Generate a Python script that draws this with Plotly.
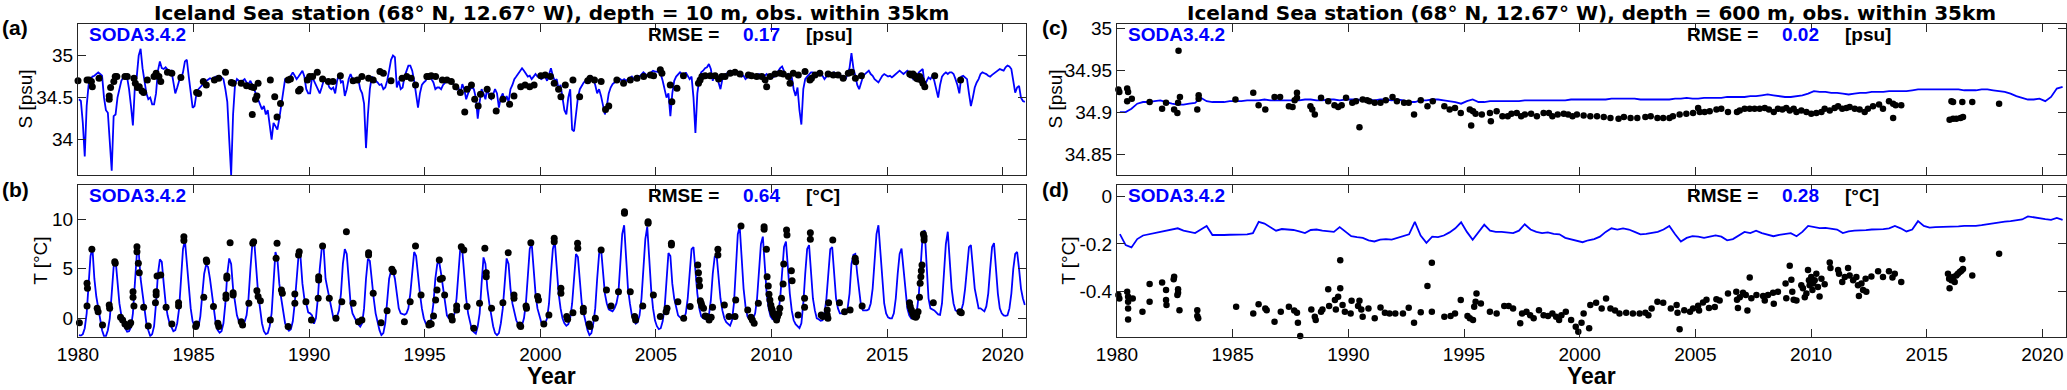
import plotly.graph_objects as go

W, H = 2067, 390
years = list(range(1980, 2021))

# SODA3.4.2 monthly salinity at 10 m [psu], one row per year (Jan..Dec)
s10_model = [
    [34.48, 34.46, 34.20, 33.80, 34.40, 34.65, 34.72, 34.75, 34.76, 34.78, 34.80, 34.78],
    [34.76, 34.50, 34.35, 34.32, 34.00, 33.63, 34.28, 34.30, 34.50, 34.62, 34.70, 34.74],
    [34.75, 34.74, 34.60, 34.40, 34.17, 34.62, 34.75, 35.00, 35.08, 34.85, 34.72, 34.55],
    [34.48, 34.50, 34.42, 34.42, 34.55, 34.82, 34.93, 34.85, 34.84, 34.86, 34.83, 34.82],
    [34.82, 34.70, 34.55, 34.62, 34.70, 34.72, 34.80, 34.93, 34.95, 34.75, 34.55, 34.38],
    [34.40, 34.55, 34.60, 34.62, 34.65, 34.68, 34.70, 34.72, 34.73, 34.72, 34.74, 34.75],
    [34.75, 34.76, 34.74, 34.72, 34.60, 34.45, 34.00, 33.58, 34.30, 34.65, 34.72, 34.70],
    [34.70, 34.70, 34.72, 34.68, 34.66, 34.70, 34.65, 34.60, 34.55, 34.48, 34.42, 34.36],
    [34.40, 34.30, 34.35, 34.20, 34.00, 34.20, 34.15, 34.12, 34.25, 34.40, 34.60, 34.72],
    [34.72, 34.70, 34.76, 34.80, 34.76, 34.72, 34.75, 34.78, 34.82, 34.75, 34.60, 34.55],
    [34.55, 34.75, 34.70, 34.65, 34.60, 34.55, 34.62, 34.70, 34.72, 34.68, 34.62, 34.60],
    [34.62, 34.55, 34.70, 34.78, 34.68, 34.70, 34.52, 34.60, 34.72, 34.78, 34.72, 34.72],
    [34.72, 34.72, 34.60, 34.55, 34.43, 33.90, 34.30, 34.60, 34.75, 34.72, 34.70, 34.68],
    [34.65, 34.66, 34.60, 34.62, 34.70, 34.82, 34.95, 35.00, 34.98, 34.62, 34.70, 34.60],
    [34.62, 34.75, 34.82, 34.88, 34.88, 34.82, 34.70, 34.55, 34.38, 34.55, 34.65, 34.68],
    [34.70, 34.75, 34.78, 34.72, 34.68, 34.60, 34.62, 34.62, 34.60, 34.65, 34.68, 34.70],
    [34.70, 34.68, 34.66, 34.65, 34.60, 34.62, 34.55, 34.66, 34.60, 34.48, 34.55, 34.60],
    [34.62, 34.60, 34.50, 34.25, 34.45, 34.60, 34.55, 34.48, 34.62, 34.50, 34.48, 34.55],
    [34.60, 34.55, 34.38, 34.50, 34.55, 34.45, 34.52, 34.45, 34.60, 34.65, 34.72, 34.75],
    [34.78, 34.82, 34.85, 34.82, 34.78, 34.75, 34.76, 34.72, 34.75, 34.78, 34.75, 34.74],
    [34.72, 34.74, 34.75, 34.70, 34.78, 34.85, 34.76, 34.70, 34.72, 34.60, 34.65, 34.50],
    [34.35, 34.30, 34.50, 34.60, 34.12, 34.10, 34.30, 34.50, 34.60, 34.65, 34.68, 34.70],
    [34.72, 34.70, 34.75, 34.72, 34.65, 34.55, 34.60, 34.52, 34.40, 34.30, 34.40, 34.55],
    [34.62, 34.66, 34.68, 34.70, 34.70, 34.72, 34.70, 34.72, 34.70, 34.72, 34.74, 34.75],
    [34.72, 34.74, 34.76, 34.75, 34.78, 34.80, 34.78, 34.76, 34.78, 34.80, 34.82, 34.81],
    [34.81, 34.80, 34.78, 34.70, 34.60, 34.50, 34.55, 34.28, 34.55, 34.70, 34.75, 34.78],
    [34.80, 34.78, 34.76, 34.80, 34.76, 34.72, 34.75, 34.50, 34.08, 34.55, 34.72, 34.80],
    [34.82, 34.85, 34.86, 34.90, 34.84, 34.70, 34.78, 34.75, 34.68, 34.60, 34.72, 34.76],
    [34.78, 34.80, 34.82, 34.80, 34.78, 34.79, 34.80, 34.78, 34.75, 34.76, 34.72, 34.74],
    [34.75, 34.77, 34.78, 34.76, 34.77, 34.78, 34.76, 34.74, 34.76, 34.78, 34.75, 34.76],
    [34.74, 34.75, 34.78, 34.82, 34.85, 34.87, 34.82, 34.76, 34.78, 34.70, 34.75, 34.60],
    [34.52, 34.62, 34.35, 34.18, 34.60, 34.72, 34.75, 34.78, 34.80, 34.80, 34.78, 34.76],
    [34.80, 34.78, 34.76, 34.72, 34.75, 34.80, 34.78, 34.76, 34.80, 34.78, 34.76, 34.75],
    [34.76, 34.75, 34.72, 34.78, 34.85, 35.03, 34.85, 34.76, 34.65, 34.60, 34.68, 34.75],
    [34.78, 34.80, 34.82, 34.78, 34.76, 34.72, 34.70, 34.68, 34.72, 34.76, 34.78, 34.76],
    [34.75, 34.76, 34.74, 34.76, 34.78, 34.80, 34.82, 34.80, 34.78, 34.80, 34.82, 34.80],
    [34.76, 34.72, 34.74, 34.76, 34.80, 34.82, 34.84, 34.65, 34.70, 34.74, 34.72, 34.76],
    [34.70, 34.60, 34.50, 34.65, 34.75, 34.78, 34.80, 34.78, 34.80, 34.80, 34.78, 34.72],
    [34.65, 34.55, 34.75, 34.76, 34.74, 34.72, 34.55, 34.40, 34.50, 34.62, 34.68, 34.72],
    [34.78, 34.80, 34.79, 34.78, 34.76, 34.75, 34.77, 34.79, 34.80, 34.82, 34.84, 34.83],
    [34.82, 34.86, 34.88, 34.87, 34.84, 34.70, 34.56, 34.62, 34.64, 34.50, 34.46, 34.45],
]

# SODA3.4.2 monthly temperature at 10 m [degC], one row per year (Jan..Dec)
t10_model = [
    [-1.7, -1.75, -1.6, -1.0, 0.5, 3.5, 6.3, 7.07, 4.0, 2.2, 1.0, 0.0],
    [-1.2, -1.8, -1.8, -1.2, 0.0, 2.5, 5.2, 5.9, 3.5, 1.5, 0.3, -0.6],
    [-1.0, -1.35, -1.3, -0.9, 0.5, 3.2, 6.4, 6.8, 4.0, 2.5, 0.8, -0.5],
    [-1.2, -1.8, -1.6, -0.8, 1.5, 4.5, 5.95, 5.7, 3.5, 1.5, 0.3, -0.5],
    [-0.9, -1.3, -1.2, -0.5, 1.0, 4.0, 7.0, 7.9, 5.5, 2.5, 1.0, -0.3],
    [-0.8, -1.0, -0.9, 0.2, 2.5, 4.5, 5.4, 5.2, 4.0, 2.5, 1.0, -0.5],
    [-1.2, -1.45, -1.3, -0.5, 1.5, 4.5, 6.05, 5.5, 3.0, 1.5, 0.3, -0.3],
    [-0.3, -0.5, -0.35, 0.3, 2.0, 5.0, 7.5, 7.75, 4.5, 2.5, 1.0, -0.5],
    [-1.3, -1.6, -1.5, -0.8, 0.5, 3.5, 6.7, 6.0, 3.5, 2.0, 0.5, -0.5],
    [-1.0, -1.25, -1.1, -0.3, 1.5, 4.5, 6.4, 6.2, 3.5, 2.0, 1.5, 0.6],
    [0.5, 0.3, -0.55, 0.0, 2.0, 5.0, 7.0, 7.2, 4.0, 3.0, 2.0, 0.8],
    [0.1, 0.0, 0.2, 0.8, 2.5, 5.5, 7.0, 6.5, 3.5, 1.5, 0.5, 0.0],
    [-0.3, -0.6, -0.85, -0.5, 1.0, 4.0, 6.0, 5.8, 3.5, 2.0, 0.5, -0.5],
    [-1.2, -1.7, -1.5, -0.5, 1.5, 4.0, 4.8, 4.8, 4.0, 2.5, 1.0, 0.5],
    [0.4, 0.35, 0.5, 1.0, 2.5, 5.0, 6.7, 6.3, 4.0, 2.5, 1.0, 0.0],
    [-0.5, -0.75, -0.6, 0.0, 1.5, 4.0, 5.5, 5.7, 4.5, 3.0, 1.5, 0.3],
    [0.0, -0.15, 0.0, 0.5, 2.0, 5.0, 7.2, 6.8, 4.0, 2.0, 0.5, -0.5],
    [-1.2, -1.4, -1.55, -0.8, 0.5, 3.5, 6.15, 5.5, 3.0, 1.5, 0.2, -0.8],
    [-1.5, -1.7, -1.5, -0.5, 1.0, 4.0, 6.05, 5.5, 3.0, 1.5, 0.5, -0.2],
    [-0.6, -0.85, -0.7, 0.0, 1.5, 4.5, 7.0, 7.6, 5.0, 2.5, 1.0, 0.2],
    [-0.4, -0.65, -0.5, 0.0, 1.5, 4.5, 7.0, 7.75, 5.0, 2.5, 1.0, 0.0],
    [-0.5, -0.75, -0.6, 0.0, 1.5, 4.0, 6.5, 6.2, 3.5, 1.5, 0.5, -0.5],
    [-1.2, -1.7, -1.5, -0.5, 1.0, 4.0, 6.5, 7.07, 4.5, 2.5, 1.5, 0.9],
    [0.8, 0.7, 1.0, 1.5, 2.5, 5.5, 8.5, 9.4, 6.0, 3.0, 1.5, 0.3],
    [-0.2, -0.55, -0.4, 0.3, 2.0, 5.0, 8.0, 9.25, 6.0, 3.0, 1.0, -0.2],
    [-0.8, -1.1, -1.0, -0.3, 1.0, 4.0, 6.6, 6.3, 3.5, 2.0, 1.0, 0.3],
    [0.1, 0.0, 0.0, 0.5, 2.0, 5.0, 7.0, 7.2, 4.5, 2.5, 1.0, 0.2],
    [0.0, -0.1, -0.15, 0.3, 1.8, 4.5, 6.2, 6.4, 4.0, 2.0, 0.8, 0.0],
    [-0.4, -0.6, -0.75, -0.2, 1.5, 5.0, 8.5, 9.25, 6.0, 3.0, 1.2, 0.2],
    [-0.1, -0.1, 0.0, 0.5, 2.0, 5.0, 7.5, 8.25, 5.5, 2.5, 1.0, 0.2],
    [-0.1, -0.15, 0.0, 0.5, 2.0, 5.0, 7.2, 7.75, 5.0, 2.5, 0.8, -0.2],
    [-0.6, -0.8, -1.0, -0.5, 1.5, 4.5, 7.0, 7.4, 4.5, 2.0, 0.8, 0.0],
    [-0.1, -0.25, -0.2, 0.5, 2.0, 5.0, 7.0, 7.2, 4.0, 2.0, 1.0, 0.5],
    [0.5, 0.5, 0.6, 1.0, 2.5, 5.5, 6.4, 6.5, 4.5, 2.5, 1.2, 0.8],
    [0.8, 0.8, 0.9, 1.5, 3.0, 6.0, 8.5, 9.4, 6.5, 3.5, 1.5, 0.5],
    [0.1, 0.0, 0.0, 0.5, 2.0, 4.5, 6.5, 7.05, 5.0, 2.5, 1.0, 0.3],
    [0.0, 0.0, 0.1, 0.8, 2.5, 5.5, 8.5, 8.9, 5.0, 2.0, 1.0, 0.9],
    [0.8, 0.6, 0.4, 0.35, 1.5, 4.5, 7.5, 8.75, 5.5, 3.0, 1.5, 0.8],
    [0.7, 0.7, 0.8, 1.5, 3.0, 5.5, 7.2, 7.4, 5.0, 3.0, 2.0, 1.0],
    [1.0, 0.8, 0.7, 1.2, 2.5, 5.0, 7.2, 7.6, 5.0, 2.5, 1.0, 0.5],
    [0.3, 0.25, 0.3, 1.0, 2.5, 5.0, 6.5, 6.7, 5.0, 3.0, 2.0, 1.35],
]

# SODA3.4.2 salinity at 600 m [psu], four values per year
s600_model = [
    [34.900, 34.900, 34.904, 34.910], [34.912, 34.912, 34.913, 34.914],
    [34.912, 34.910, 34.909, 34.909], [34.910, 34.911, 34.917, 34.913],
    [34.912, 34.912, 34.912, 34.913], [34.913, 34.913, 34.914, 34.914],
    [34.914, 34.915, 34.914, 34.914], [34.914, 34.914, 34.914, 34.914],
    [34.915, 34.915, 34.914, 34.914], [34.915, 34.915, 34.914, 34.915],
    [34.915, 34.915, 34.914, 34.915], [34.914, 34.915, 34.915, 34.914],
    [34.915, 34.914, 34.912, 34.912], [34.914, 34.914, 34.915, 34.915],
    [34.914, 34.913, 34.912, 34.910], [34.913, 34.915, 34.912, 34.912],
    [34.913, 34.913, 34.913, 34.913], [34.913, 34.913, 34.914, 34.914],
    [34.914, 34.914, 34.914, 34.914], [34.914, 34.914, 34.915, 34.915],
    [34.915, 34.915, 34.915, 34.915], [34.915, 34.916, 34.916, 34.916],
    [34.916, 34.916, 34.915, 34.915], [34.915, 34.915, 34.915, 34.915],
    [34.916, 34.916, 34.917, 34.916], [34.916, 34.917, 34.917, 34.917],
    [34.917, 34.918, 34.918, 34.918], [34.918, 34.919, 34.919, 34.920],
    [34.921, 34.920, 34.919, 34.918], [34.918, 34.919, 34.920, 34.922],
    [34.925, 34.924, 34.924, 34.923], [34.923, 34.922, 34.921, 34.922],
    [34.923, 34.923, 34.924, 34.924], [34.924, 34.925, 34.925, 34.925],
    [34.925, 34.926, 34.927, 34.927], [34.927, 34.927, 34.927, 34.927],
    [34.927, 34.927, 34.926, 34.926], [34.926, 34.927, 34.927, 34.926],
    [34.925, 34.924, 34.922, 34.919], [34.917, 34.915, 34.915, 34.916],
    [34.913, 34.918, 34.928, 34.930],
]

# SODA3.4.2 temperature at 600 m [degC], four values per year
t600_model = [
    [-0.159, -0.205, -0.215, -0.180], [-0.165, -0.160, -0.158, -0.152],
    [-0.148, -0.140, -0.135, -0.145], [-0.150, -0.155, -0.140, -0.125],
    [-0.163, -0.164, -0.163, -0.162], [-0.162, -0.161, -0.160, -0.155],
    [-0.108, -0.115, -0.130, -0.145], [-0.138, -0.140, -0.142, -0.148],
    [-0.155, -0.142, -0.140, -0.145], [-0.148, -0.150, -0.130, -0.150],
    [-0.168, -0.172, -0.175, -0.185], [-0.190, -0.182, -0.180, -0.182],
    [-0.175, -0.168, -0.160, -0.108], [-0.165, -0.196, -0.170, -0.172],
    [-0.165, -0.152, -0.135, -0.110], [-0.150, -0.183, -0.150, -0.120],
    [-0.145, -0.150, -0.150, -0.152], [-0.155, -0.145, -0.118, -0.140],
    [-0.150, -0.155, -0.152, -0.158], [-0.160, -0.175, -0.180, -0.185],
    [-0.193, -0.185, -0.180, -0.170], [-0.150, -0.135, -0.140, -0.135],
    [-0.140, -0.150, -0.160, -0.158], [-0.155, -0.150, -0.140, -0.125],
    [-0.160, -0.190, -0.175, -0.168], [-0.170, -0.175, -0.170, -0.165],
    [-0.170, -0.185, -0.180, -0.165], [-0.150, -0.155, -0.145, -0.155],
    [-0.160, -0.168, -0.162, -0.158], [-0.155, -0.168, -0.150, -0.125],
    [-0.130, -0.134, -0.133, -0.135], [-0.140, -0.155, -0.148, -0.145],
    [-0.145, -0.143, -0.140, -0.140], [-0.138, -0.135, -0.125, -0.135],
    [-0.148, -0.140, -0.105, -0.125], [-0.132, -0.130, -0.130, -0.129],
    [-0.128, -0.127, -0.125, -0.126], [-0.125, -0.122, -0.118, -0.113],
    [-0.110, -0.107, -0.105, -0.102], [-0.098, -0.085, -0.090, -0.095],
    [-0.097, -0.100, -0.092, -0.100],
]

# observations within 35 km: (decimal year, value)
s10_obs = [
    (1980.00, 34.70), (1980.39, 34.71), (1980.48, 34.71), (1980.62, 34.63), (1980.58, 34.69),
    (1980.91, 34.73), (1981.35, 34.52), (1981.41, 34.62), (1981.35, 34.48), (1981.55, 34.69),
    (1981.61, 34.75), (1981.68, 34.75), (1982.03, 34.75), (1982.13, 34.75), (1982.42, 34.73),
    (1982.48, 34.67), (1982.57, 34.62), (1982.65, 34.63), (1982.77, 34.58), (1982.84, 34.56),
    (1983.00, 34.71), (1983.29, 34.75), (1983.38, 34.79), (1983.50, 34.75), (1983.58, 34.69),
    (1983.87, 34.80), (1984.06, 34.79), (1984.45, 34.74), (1985.13, 34.56), (1985.22, 34.55),
    (1985.42, 34.69), (1985.55, 34.65), (1985.90, 34.71), (1986.09, 34.73), (1986.38, 34.80),
    (1986.63, 34.68), (1986.71, 34.67), (1987.06, 34.67), (1987.29, 34.64), (1987.49, 34.63),
    (1987.60, 34.62), (1987.54, 34.30), (1987.68, 34.48), (1987.74, 34.52), (1987.79, 34.67),
    (1988.32, 34.71), (1988.51, 34.51), (1988.61, 34.27), (1988.76, 34.43), (1989.09, 34.71),
    (1989.19, 34.72), (1989.54, 34.58), (1989.61, 34.60), (1989.92, 34.71), (1990.02, 34.75),
    (1990.15, 34.75), (1990.35, 34.80), (1990.58, 34.72), (1990.83, 34.69), (1991.03, 34.69),
    (1991.35, 34.76), (1991.90, 34.70), (1992.09, 34.71), (1992.28, 34.75), (1992.57, 34.73),
    (1992.77, 34.71), (1993.06, 34.81), (1993.21, 34.79), (1993.54, 34.70), (1994.02, 34.73),
    (1994.22, 34.75), (1994.41, 34.73), (1994.60, 34.65), (1995.09, 34.75), (1995.18, 34.75),
    (1995.28, 34.76), (1995.47, 34.75), (1995.76, 34.71), (1995.96, 34.71), (1996.15, 34.69),
    (1996.34, 34.63), (1996.54, 34.56), (1996.73, 34.33), (1996.83, 34.60), (1997.02, 34.65),
    (1997.16, 34.48), (1997.31, 34.40), (1997.41, 34.54), (1997.70, 34.60), (1997.89, 34.52),
    (1998.09, 34.34), (1998.38, 34.48), (1998.67, 34.42), (1998.86, 34.52), (1999.15, 34.63),
    (1999.34, 34.65), (1999.54, 34.63), (1999.73, 34.65), (2000.02, 34.76), (2000.21, 34.77),
    (2000.44, 34.75), (2000.60, 34.67), (2000.79, 34.60), (2000.89, 34.51), (2001.08, 34.65),
    (2001.41, 34.71), (2001.70, 34.51), (2002.05, 34.70), (2002.15, 34.73), (2002.34, 34.71),
    (2002.63, 34.69), (2002.82, 34.36), (2002.96, 34.40), (2003.31, 34.71), (2003.60, 34.67),
    (2003.89, 34.71), (2004.18, 34.73), (2004.47, 34.75), (2004.76, 34.77), (2004.90, 34.76),
    (2005.19, 34.83), (2005.26, 34.79), (2005.62, 34.65), (2005.69, 34.45), (2005.91, 34.61),
    (2006.19, 34.76), (2006.84, 34.67), (2006.91, 34.71), (2006.99, 34.75), (2007.13, 34.76),
    (2007.35, 34.76), (2007.56, 34.76), (2007.71, 34.72), (2007.85, 34.75), (2007.99, 34.75),
    (2008.21, 34.79), (2008.42, 34.80), (2008.64, 34.78), (2009.00, 34.77), (2009.14, 34.76),
    (2009.36, 34.75), (2009.58, 34.75), (2009.72, 34.71), (2009.79, 34.63), (2009.94, 34.75),
    (2010.15, 34.78), (2010.37, 34.79), (2010.51, 34.78), (2010.73, 34.75), (2010.80, 34.67),
    (2010.94, 34.79), (2011.16, 34.77), (2011.45, 34.81), (2011.66, 34.71), (2011.73, 34.73),
    (2011.88, 34.77), (2012.09, 34.79), (2012.45, 34.78), (2012.67, 34.77), (2012.88, 34.77),
    (2013.10, 34.73), (2013.32, 34.79), (2013.46, 34.80), (2013.63, 34.73), (2013.89, 34.76),
    (2015.98, 34.78), (2016.05, 34.77), (2016.12, 34.78), (2016.19, 34.76), (2016.27, 34.73),
    (2016.34, 34.72), (2016.41, 34.75), (2016.48, 34.71), (2016.55, 34.67), (2016.63, 34.63),
    (2017.06, 34.76), (2018.18, 34.71),
]

t10_obs = [
    (1980.06, -0.44), (1980.39, 3.54), (1980.41, 3.03), (1980.39, 1.25), (1980.60, 6.97),
    (1980.83, 1.01), (1980.87, 0.67), (1981.06, -0.67), (1981.35, 1.35), (1981.37, 1.01),
    (1981.59, 5.72), (1981.61, 5.56), (1981.84, 0.10), (1981.93, -0.17), (1982.03, -0.57),
    (1982.13, -0.84), (1982.22, -0.67), (1982.28, -0.44), (1982.38, 2.12), (1982.38, 2.69),
    (1982.42, 1.25), (1982.55, 7.24), (1982.55, 6.73), (1982.61, 5.56), (1982.65, 4.61),
    (1982.84, 1.11), (1983.04, -0.77), (1983.35, 1.58), (1983.38, 2.36), (1983.38, 2.69),
    (1983.42, 4.28), (1983.58, 4.38), (1983.81, 1.11), (1984.06, -0.57), (1984.35, 1.58),
    (1984.35, 1.25), (1984.58, 8.25), (1984.58, 7.85), (1985.09, -0.84), (1985.13, -0.57),
    (1985.44, 2.12), (1985.55, 5.89), (1985.57, 5.72), (1985.86, 1.18), (1986.05, -0.51),
    (1986.09, -0.84), (1986.40, 2.02), (1986.40, 2.36), (1986.44, 4.28), (1986.44, 4.04),
    (1986.58, 7.64), (1986.71, 2.59), (1986.71, 2.36), (1987.06, -0.34), (1987.12, -0.67),
    (1987.39, 1.52), (1987.56, 7.58), (1987.60, 7.74), (1987.74, 2.79), (1987.79, 2.19),
    (1987.89, 1.78), (1988.32, -0.17), (1988.57, 6.06), (1988.61, 7.58), (1988.80, 2.86),
    (1988.84, 2.53), (1989.09, -0.84), (1989.38, 1.52), (1989.38, 2.46), (1989.54, 6.40),
    (1989.57, 6.73), (1989.86, 1.68), (1990.10, -0.17), (1990.39, 2.02), (1990.41, 3.87),
    (1990.41, 4.21), (1990.58, 7.31), (1990.87, 2.02), (1991.16, 0.00), (1991.41, 1.68),
    (1991.61, 8.75), (1991.90, 1.52), (1992.13, -0.34), (1992.28, -0.17), (1992.57, 6.63),
    (1992.57, 6.40), (1992.77, 2.53), (1993.11, -0.44), (1993.37, 0.77), (1993.58, 4.95),
    (1993.64, 4.71), (1994.12, -0.34), (1994.37, 1.68), (1994.60, 7.31), (1994.84, 2.36),
    (1995.18, -0.67), (1995.22, -0.51), (1995.28, -0.57), (1995.38, 0.24), (1995.47, 1.85),
    (1995.53, 2.86), (1995.63, 5.89), (1995.67, 3.94), (1995.76, 4.04), (1995.86, 2.36),
    (1996.15, 0.17), (1996.19, -0.17), (1996.38, 0.84), (1996.38, 1.25), (1996.58, 7.24),
    (1996.69, 6.90), (1996.83, 1.18), (1997.12, -1.01), (1997.37, 1.52), (1997.60, 7.07),
    (1997.66, 4.61), (1997.66, 4.21), (1997.89, 1.01), (1998.38, 1.58), (1998.61, 6.63),
    (1998.86, 2.36), (1998.86, 2.02), (1999.11, -0.67), (1999.15, -0.84), (1999.38, 1.25),
    (1999.40, 1.01), (1999.59, 7.64), (1999.88, 2.19), (1999.92, 1.85), (2000.15, -0.57),
    (2000.37, 0.34), (2000.60, 8.08), (2000.60, 7.74), (2000.89, 3.03), (2000.89, 2.53),
    (2001.14, 0.17), (2001.18, -0.10), (2001.41, 0.57), (2001.61, 7.58), (2001.62, 7.07),
    (2001.86, 1.01), (2001.86, 0.67), (2002.11, -0.57), (2002.15, -0.84), (2002.38, 0.00),
    (2002.63, 6.90), (2002.86, 2.86), (2003.06, 1.25), (2003.38, 2.69), (2003.64, 10.77),
    (2003.64, 10.61), (2003.89, 2.69), (2004.08, 0.17), (2004.12, -0.17), (2004.43, 1.25),
    (2004.66, 9.76), (2004.66, 9.60), (2004.89, 2.36), (2005.19, 0.17), (2005.44, 0.67),
    (2005.48, 1.01), (2005.67, 7.58), (2005.67, 7.41), (2005.95, 1.68), (2006.20, 0.00),
    (2006.48, 1.18), (2006.81, 5.39), (2006.84, 4.61), (2006.87, 3.87), (2006.89, 3.27),
    (2006.92, 1.78), (2006.96, 1.52), (2006.99, 1.25), (2007.06, 1.01), (2007.13, 0.24),
    (2007.20, 0.17), (2007.30, -0.17), (2007.39, 0.10), (2007.45, 1.11), (2007.68, 6.40),
    (2007.68, 6.97), (2007.96, 1.35), (2008.16, 0.17), (2008.42, 0.17), (2008.45, 1.85),
    (2008.68, 9.33), (2008.97, 0.84), (2009.11, 0.10), (2009.17, -0.17), (2009.25, -0.51),
    (2009.43, 1.52), (2009.68, 9.26), (2009.68, 8.99), (2009.78, 6.97), (2009.81, 4.21),
    (2009.86, 3.27), (2009.89, 2.42), (2009.93, 1.85), (2009.97, 1.35), (2010.00, 1.01),
    (2010.03, 0.84), (2010.07, 0.51), (2010.11, 0.34), (2010.17, 0.10), (2010.22, -0.17),
    (2010.26, 0.17), (2010.32, 0.51), (2010.36, 1.01), (2010.43, 2.02), (2010.50, 3.47),
    (2010.53, 5.49), (2010.65, 8.92), (2010.67, 8.42), (2010.86, 4.81), (2010.89, 3.80),
    (2011.15, 0.34), (2011.43, 2.02), (2011.43, 1.11), (2011.68, 8.65), (2011.68, 7.98),
    (2012.15, 0.34), (2012.22, 0.17), (2012.41, 0.84), (2012.41, 0.34), (2012.44, 0.00),
    (2012.47, 1.58), (2012.65, 7.91), (2012.94, 1.58), (2013.16, 0.67), (2013.40, 0.84),
    (2013.62, 6.06), (2013.64, 5.72), (2013.92, 1.25), (2015.97, 1.58), (2016.00, 1.18),
    (2016.05, 0.84), (2016.10, 0.57), (2016.14, 0.34), (2016.17, 0.17), (2016.24, 0.10),
    (2016.28, 0.24), (2016.34, 0.67), (2016.40, 2.12), (2016.43, 3.54), (2016.46, 4.21),
    (2016.48, 4.81), (2016.51, 5.39), (2016.57, 8.52), (2016.60, 8.25), (2016.60, 7.91),
    (2017.00, 1.58), (2018.15, 0.67), (2018.21, 0.57),
]

s600_obs = [
    (1980.06, 34.927), (1980.10, 34.924), (1980.44, 34.928), (1980.48, 34.924), (1980.44, 34.913),
    (1980.64, 34.916), (1981.41, 34.912), (1981.95, 34.904), (1982.12, 34.911), (1982.47, 34.903),
    (1982.61, 34.899), (1982.66, 34.973), (1982.64, 34.911), (1982.72, 34.918), (1983.47, 34.903),
    (1983.53, 34.920), (1983.53, 34.916), (1985.12, 34.915), (1985.89, 34.923), (1986.12, 34.908),
    (1986.41, 34.903), (1986.81, 34.918), (1987.05, 34.918), (1987.43, 34.907), (1987.59, 34.906),
    (1987.68, 34.914), (1987.78, 34.923), (1987.78, 34.917), (1988.36, 34.907), (1988.44, 34.903),
    (1988.55, 34.897), (1988.82, 34.917), (1989.13, 34.913), (1989.40, 34.908), (1989.56, 34.906),
    (1989.63, 34.824), (1989.71, 34.908), (1989.90, 34.917), (1990.17, 34.911), (1990.33, 34.913),
    (1990.48, 34.882), (1990.62, 34.915), (1990.81, 34.914), (1990.91, 34.913), (1991.14, 34.911),
    (1991.39, 34.911), (1991.62, 34.914), (1991.91, 34.918), (1992.10, 34.913), (1992.41, 34.911),
    (1992.61, 34.911), (1992.84, 34.897), (1993.13, 34.914), (1993.42, 34.907), (1993.65, 34.913),
    (1994.15, 34.907), (1994.38, 34.903), (1994.61, 34.905), (1994.86, 34.899), (1995.25, 34.903),
    (1995.31, 34.884), (1995.39, 34.901), (1995.50, 34.898), (1995.77, 34.897), (1996.12, 34.899),
    (1996.16, 34.889), (1996.41, 34.901), (1996.66, 34.895), (1996.89, 34.895), (1997.05, 34.898),
    (1997.28, 34.899), (1997.47, 34.895), (1997.63, 34.897), (1997.90, 34.898), (1998.15, 34.895),
    (1998.44, 34.899), (1998.67, 34.899), (1998.82, 34.895), (1999.05, 34.897), (1999.31, 34.898),
    (1999.50, 34.897), (1999.69, 34.895), (1999.88, 34.897), (2000.17, 34.896), (2000.46, 34.895),
    (2000.75, 34.895), (2001.04, 34.894), (2001.33, 34.893), (2001.68, 34.892), (2001.91, 34.894),
    (2002.20, 34.893), (2002.49, 34.893), (2002.84, 34.894), (2003.07, 34.895), (2003.36, 34.893),
    (2003.61, 34.893), (2003.88, 34.893), (2004.03, 34.895), (2004.32, 34.897), (2004.61, 34.898),
    (2004.90, 34.899), (2005.12, 34.905), (2005.19, 34.900), (2005.40, 34.900), (2005.62, 34.901),
    (2005.91, 34.903), (2006.12, 34.904), (2006.41, 34.900), (2006.80, 34.900), (2006.92, 34.902),
    (2007.13, 34.904), (2007.35, 34.904), (2007.56, 34.904), (2007.78, 34.904), (2008.00, 34.905),
    (2008.18, 34.903), (2008.39, 34.900), (2008.57, 34.904), (2008.76, 34.903), (2008.93, 34.905),
    (2009.08, 34.902), (2009.25, 34.904), (2009.37, 34.900), (2009.58, 34.902), (2009.80, 34.900),
    (2010.01, 34.898), (2010.23, 34.899), (2010.45, 34.900), (2010.59, 34.904), (2010.81, 34.902),
    (2011.02, 34.905), (2011.17, 34.907), (2011.35, 34.904), (2011.53, 34.905), (2011.67, 34.906),
    (2011.89, 34.904), (2012.10, 34.903), (2012.32, 34.900), (2012.46, 34.904), (2012.68, 34.907),
    (2012.94, 34.909), (2013.11, 34.904), (2013.37, 34.913), (2013.55, 34.910), (2013.66, 34.908),
    (2013.90, 34.908), (2013.55, 34.893), (2016.07, 34.913), (2016.14, 34.912), (2016.54, 34.912),
    (2016.97, 34.912), (2018.13, 34.910), (2015.99, 34.891), (2016.14, 34.892), (2016.28, 34.892),
    (2016.46, 34.893), (2016.57, 34.894),
]

t600_obs = [
    (1980.06, -0.414), (1980.10, -0.428), (1980.44, -0.400), (1980.48, -0.421), (1980.48, -0.442),
    (1980.48, -0.470), (1980.48, -0.516), (1980.68, -0.428), (1981.10, -0.484), (1981.41, -0.368),
    (1981.41, -0.442), (1981.95, -0.362), (1982.12, -0.393), (1982.12, -0.435), (1982.14, -0.456),
    (1982.45, -0.348), (1982.47, -0.337), (1982.61, -0.414), (1982.64, -0.404), (1982.64, -0.390),
    (1982.70, -0.477), (1983.47, -0.477), (1983.47, -0.502), (1983.51, -0.511), (1985.15, -0.463),
    (1985.89, -0.491), (1986.12, -0.452), (1986.41, -0.470), (1986.47, -0.477), (1986.81, -0.525),
    (1987.08, -0.484), (1987.43, -0.463), (1987.66, -0.479), (1987.78, -0.488), (1987.82, -0.530),
    (1987.92, -0.585), (1988.40, -0.474), (1988.55, -0.505), (1988.59, -0.518), (1988.82, -0.484),
    (1988.88, -0.474), (1989.13, -0.390), (1989.17, -0.460), (1989.42, -0.435), (1989.46, -0.474),
    (1989.56, -0.421), (1989.65, -0.268), (1989.65, -0.386), (1989.75, -0.456), (1989.85, -0.484),
    (1990.10, -0.491), (1990.14, -0.438), (1990.42, -0.460), (1990.48, -0.438), (1990.56, -0.474),
    (1990.62, -0.505), (1990.87, -0.470), (1991.14, -0.511), (1991.39, -0.466), (1991.58, -0.488),
    (1991.78, -0.491), (1992.03, -0.491), (1992.36, -0.491), (1992.61, -0.467), (1992.84, -0.530),
    (1993.13, -0.486), (1993.42, -0.376), (1993.61, -0.279), (1993.61, -0.484), (1994.15, -0.505),
    (1994.42, -0.502), (1994.61, -0.491), (1994.86, -0.435), (1995.15, -0.502), (1995.25, -0.511),
    (1995.39, -0.518), (1995.44, -0.463), (1995.50, -0.442), (1995.54, -0.407), (1995.73, -0.449),
    (1996.12, -0.484), (1996.41, -0.491), (1996.74, -0.460), (1996.93, -0.460), (1997.12, -0.470),
    (1997.43, -0.532), (1997.51, -0.491), (1997.70, -0.484), (1997.86, -0.498), (1998.01, -0.511),
    (1998.24, -0.477), (1998.44, -0.498), (1998.63, -0.502), (1998.82, -0.491), (1998.98, -0.505),
    (1999.11, -0.518), (1999.21, -0.498), (1999.40, -0.484), (1999.63, -0.518), (1999.83, -0.546),
    (1999.94, -0.567), (2000.08, -0.530), (2000.17, -0.491), (2000.41, -0.553), (2000.46, -0.456),
    (2000.71, -0.446), (2000.95, -0.470), (2001.14, -0.428), (2001.33, -0.470), (2001.53, -0.479),
    (2001.72, -0.491), (2002.01, -0.488), (2002.30, -0.491), (2002.59, -0.491), (2002.84, -0.488),
    (2002.97, -0.498), (2003.11, -0.470), (2003.36, -0.442), (2003.61, -0.446), (2003.94, -0.470),
    (2004.19, -0.456), (2004.23, -0.488), (2004.32, -0.557), (2004.52, -0.477), (2004.77, -0.484),
    (2004.90, -0.470), (2005.12, -0.459), (2005.16, -0.478), (2005.33, -0.445), (2005.48, -0.434),
    (2005.59, -0.468), (2005.84, -0.464), (2005.91, -0.431), (2006.05, -0.437), (2006.41, -0.407),
    (2006.77, -0.400), (2006.80, -0.434), (2006.84, -0.468), (2006.92, -0.423), (2007.06, -0.404),
    (2007.18, -0.414), (2007.25, -0.478), (2007.35, -0.341), (2007.42, -0.427), (2007.64, -0.414),
    (2007.93, -0.418), (2008.00, -0.437), (2008.14, -0.414), (2008.36, -0.404), (2008.39, -0.450),
    (2008.57, -0.400), (2008.90, -0.366), (2008.93, -0.427), (2009.08, -0.291), (2009.15, -0.350),
    (2009.19, -0.400), (2009.25, -0.434), (2009.37, -0.437), (2009.58, -0.373), (2009.65, -0.386),
    (2009.73, -0.423), (2009.80, -0.407), (2009.87, -0.309), (2009.91, -0.352), (2009.94, -0.373),
    (2010.01, -0.339), (2010.06, -0.393), (2010.09, -0.366), (2010.16, -0.352), (2010.23, -0.325),
    (2010.30, -0.380), (2010.37, -0.420), (2010.45, -0.346), (2010.59, -0.369), (2010.81, -0.278),
    (2010.84, -0.301), (2011.17, -0.309), (2011.21, -0.325), (2011.35, -0.359), (2011.46, -0.339),
    (2011.60, -0.301), (2011.67, -0.332), (2011.82, -0.352), (2011.96, -0.339), (2012.03, -0.373),
    (2012.07, -0.418), (2012.18, -0.366), (2012.25, -0.393), (2012.36, -0.346), (2012.39, -0.400),
    (2012.61, -0.336), (2012.90, -0.314), (2013.11, -0.339), (2013.37, -0.314), (2013.52, -0.341),
    (2013.62, -0.325), (2013.90, -0.359), (2015.92, -0.325), (2015.97, -0.346), (2015.99, -0.386),
    (2016.07, -0.352), (2016.14, -0.339), (2016.21, -0.359), (2016.28, -0.332), (2016.35, -0.325),
    (2016.43, -0.318), (2016.50, -0.312), (2016.57, -0.305), (2016.54, -0.264), (2016.97, -0.332),
    (2018.13, -0.241),
]

rmse = ["0.17", "0.64", "0.02", "0.28"]
units = ["[psu]", "[°C]", "[psu]", "[°C]"]
ylabels = ["S [psu]", "T [°C]", "S [psu]", "T [°C]"]
panel_tags = ["(a)", "(b)", "(c)", "(d)"]
depths = ["10 m", "600 m"]
yranges = [[33.58, 35.375], [-1.86, 13.47], [34.825, 35.005], [-0.588, 0.046]]
ytickvals = [[34, 34.5, 35], [0, 5, 10], [34.85, 34.9, 34.95, 35], [-0.4, -0.2, 0]]
yticktext = [["34", "34.5", "35"], ["0", "5", "10"],
             ["34.85", "34.9", "34.95", "35"], ["-0.4", "-0.2", "0"]]


def monthly_x(rows):
    return [y + (m + 0.5) / 12 for y, r in zip(years, rows) for m in range(len(r))]


def quarterly_x(rows):
    return [y + (q + 0.5) / 4 for y, r in zip(years, rows) for q in range(len(r))]


def flat(rows):
    return [v for r in rows for v in r]


models = [
    (monthly_x(s10_model), flat(s10_model)),
    (monthly_x(t10_model), flat(t10_model)),
    (quarterly_x(s600_model), flat(s600_model)),
    (quarterly_x(t600_model), flat(t600_model)),
]
obs = [s10_obs, t10_obs, s600_obs, t600_obs]

# panel boxes in pixels: left, right, top, bottom
col_x = [(78, 1025.8), (1117, 2065.5)]
row_y = [(24, 175), (185, 336.7)]
boxes = [(col_x[0], row_y[0]), (col_x[0], row_y[1]), (col_x[1], row_y[0]), (col_x[1], row_y[1])]

FONT = "Liberation Sans, Arial, sans-serif"
WIDE = "DejaVu Sans, Liberation Sans, sans-serif"
INK = "#262626"

fig = go.Figure()
layout = dict(width=W, height=H, margin=dict(l=0, r=0, t=0, b=0, pad=0),
              plot_bgcolor="white", paper_bgcolor="white", showlegend=False,
              font=dict(family=FONT, color="black"))
ann = []


def a(text, px, py, size, color="black", xanchor="left", angle=0, family=FONT):
    ann.append(dict(text=text, x=px / W, y=1 - py / H, xref="paper", yref="paper",
                    xanchor=xanchor, yanchor="middle", showarrow=False, textangle=angle,
                    font=dict(size=size, color=color, family=family)))


for i in range(4):
    (xl, xr), (yt, yb) = boxes[i]
    sfx = "" if i == 0 else str(i + 1)
    bottom = i in (1, 3)
    common = dict(ticks="inside", ticklen=8, tickwidth=1, tickcolor=INK, automargin=False,
                  showline=True, linecolor=INK, linewidth=1, mirror="allticks",
                  showgrid=False, zeroline=False, tickfont=dict(size=19, color="black"))
    layout["xaxis" + sfx] = dict(
        domain=[xl / W, xr / W], range=[1980, 2021], anchor="y" + sfx,
        tickvals=list(range(1980, 2021, 5)), showticklabels=bottom, **common)
    layout["yaxis" + sfx] = dict(
        domain=[(H - yb) / H, (H - yt) / H], range=yranges[i], anchor="x" + sfx,
        tickvals=ytickvals[i], ticktext=yticktext[i], **common)

    mx, my = models[i]
    fig.add_trace(go.Scatter(x=mx, y=my, mode="lines", xaxis="x" + sfx, yaxis="y" + sfx,
                             line=dict(color="#0000FF", width=1.8)))
    fig.add_trace(go.Scatter(x=[p[0] for p in obs[i]], y=[p[1] for p in obs[i]], mode="markers",
                             xaxis="x" + sfx, yaxis="y" + sfx, cliponaxis=False,
                             marker=dict(color="black", size=7 if i < 2 else 6.5, line=dict(width=0))))

    a("<b>SODA3.4.2</b>", xl + 9, yt + 10, 19, "#0000FF")
    a("<b>RMSE =</b>", xl + 568, yt + 10, 19)
    a("<b>%s</b>" % rmse[i], xl + 663, yt + 10, 19, "#0000FF")
    a("<b>%s</b>" % units[i], xl + 726, yt + 10, 19)
    a("<b>%s</b>" % panel_tags[i], (0 if i < 2 else 1040), yt + 4, 21)
    ylab_x = {0: 25, 1: 41, 2: 1055, 3: 1069}[i]
    a(ylabels[i], ylab_x, (yt + yb) / 2, 19, xanchor="center", angle=-90)

for c in range(2):
    xl, xr = col_x[c]
    cx = (xl + xr) / 2
    a("<b>Iceland Sea station (68° N, 12.67° W), depth = %s, obs. within 35km</b>" % depths[c],
      cx, 12.8, 20, xanchor="center", family=WIDE)
    a("<b>Year</b>", cx, 376, 23, xanchor="center")

layout["annotations"] = ann
fig.update_layout(**layout)
# page body margin would push the 2067x390 figure off the window
fig.write_html("out.html", config={"displayModeBar": False},
               post_script="document.body.style.margin='0';"
                           "document.body.style.overflow='hidden';")
